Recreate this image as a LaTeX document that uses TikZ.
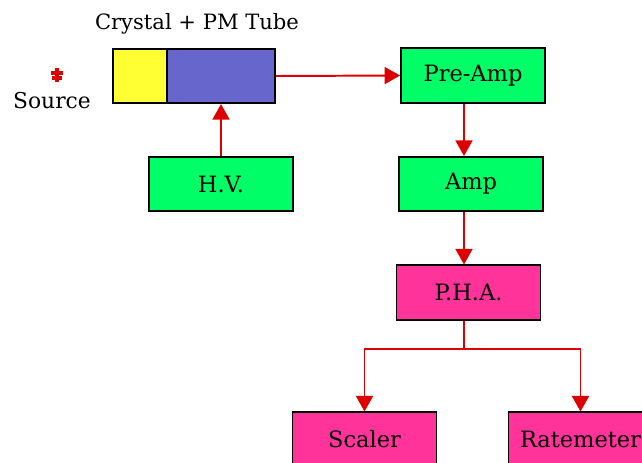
\documentclass[tikz,border=0pt]{standalone}
\usepackage{fontspec}
\setmainfont{DejaVu Serif}
\usetikzlibrary{arrows.meta}
\definecolor{xtalyellow}{HTML}{FFFF33}
\definecolor{pmtblue}{HTML}{6666CC}
\definecolor{boxgreen}{HTML}{00FF66}
\definecolor{boxpink}{HTML}{FF3399}
\definecolor{wirered}{HTML}{DD0000}
\tikzset{
  box/.style={draw, line width=1.2pt, inner sep=0pt, minimum width=3.6cm,
    minimum height=1.36cm, font=\fontsize{16}{18}\selectfont},
  feed/.style={draw=wirered, line width=1.4pt,
    -{Triangle[length=11pt, width=12pt, fill=wirered]}}
}
\begin{document}
\begin{tikzpicture}[x=0.025cm, y=-0.025cm]
        \useasboundingbox (0,0) rectangle (642,462);
        \clip (0,0) rectangle (642,462);
        % detector head
        \node[box, fill=xtalyellow, minimum width=1.35cm] (xtal) at (140,76) {};
        \node[box, fill=pmtblue, minimum width=2.7cm] (pmt) at (221,76) {};
        \node[font=\fontsize{15}{17}\selectfont] (head) at (197,24) {Crystal + PM Tube};
        % source mark
        \coordinate (src) at (57,75);
        \draw[wirered, line width=2.4pt] (src) ++(0,-7) -- ++(0,14);
        \draw[wirered, line width=2.4pt] (src) ++(-6,-2) -- ++(12,0);
        \draw[wirered, line width=2.4pt] (src) ++(-5,3) -- ++(10,0);
        \node[font=\fontsize{15.5}{17}\selectfont] (srclabel) at (52,101) {Source};
        % electronics chain
        \node[box, fill=boxgreen] (hv) at (221,184) {H.V.};
        \node[box, fill=boxgreen] (preamp) at (473,75.5) {Pre-Amp};
        \node[box, fill=boxgreen] (amp) at (471,184) {Amp};
        \node[box, fill=boxpink] (pha) at (468.5,292.5) {P.H.A.};
        \node[box, fill=boxpink] (scaler) at (364.5,439.5) {Scaler};
        \node[box, fill=boxpink] (ratemeter) at (580.5,439.5) {Ratemeter};
        \coordinate (spine) at (464,0);
        \coordinate (fork) at (464,349);
        % signal path
        \draw[feed] (hv.north) -- (pmt.south);
        \draw[feed] (pmt.east) -- (preamp.west);
        \draw[feed] (preamp.south -| spine) -- (amp.north -| spine);
        \draw[feed] (amp.south -| spine) -- (pha.north -| spine);
        \draw[wirered, line width=1.4pt] (pha.south -| spine) -- (fork);
        \draw[feed] (fork) -| (scaler.north);
        \draw[feed] (fork) -| (ratemeter.north);
    \end{tikzpicture}
\end{document}
